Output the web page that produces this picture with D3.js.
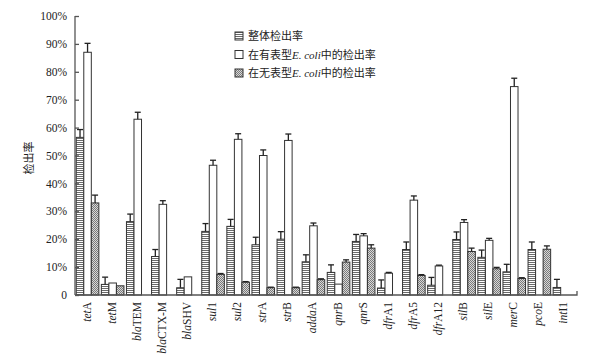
<!DOCTYPE html>
<html>
<head>
<meta charset="utf-8">
<script src="https://cdn.jsdelivr.net/npm/d3@7"></script>
<style>
body { margin: 0; background: #fff; }
</style>
</head>
<body>
<div id="chart"></div>
<script>
// gene names: [italic part, normal part]
var genes = [["tet","A"],["tet","M"],["bla","TEM"],["bla","CTX-M"],["bla","SHV"],["sul","1"],["sul","2"],["str","A"],["str","B"],["adda","A"],["qnr","B"],["qnr","S"],["dfr","A1"],["dfr","A5"],["dfr","A12"],["sil","B"],["sil","E"],["mer","C"],["pco","E"],["int","I1"]];
// overall detection rate (%) and error
var overall    = [56.5, 3.8, 26.3, 13.8, 2.6, 22.8, 24.6, 18.0, 20.0, 11.9, 8.1, 19.2, 2.5, 16.3, 3.5, 19.9, 13.5, 8.3, 16.3, 2.7];
var overallErr = [2.8, 2.6, 2.7, 2.5, 3.0, 2.8, 2.5, 2.7, 2.7, 2.5, 2.7, 2.5, 2.9, 2.7, 2.8, 2.7, 2.6, 2.7, 2.7, 2.9];
// detection rate in phenotypic E. coli
var withPheno    = [87, 4.3, 63, 32.5, 6.5, 46.5, 55.8, 50, 55.4, 24.8, 3.9, 21.2, 7.8, 34, 10.4, 26, 19.6, 74.7, 0, 0];
var withPhenoErr = [3.2, 0, 2.5, 1.3, 0, 1.8, 2.0, 2.0, 2.3, 1.0, 0, 0.8, 0.3, 1.5, 0.3, 1.0, 0.7, 3.0, 0, 0];
// detection rate in non-phenotypic E. coli
var noPheno    = [33, 3.3, 0, 0, 0, 7.4, 4.6, 2.6, 2.6, 5.5, 11.8, 16.8, 0, 7.0, 0, 15.6, 9.4, 5.9, 16.4, 0];
var noPhenoErr = [2.8, 0, 0, 0, 0, 0.3, 0.2, 0.2, 0.2, 0.3, 0.8, 1.2, 0, 0.3, 0, 1.2, 0.5, 0.3, 1.2, 0];
var yTicks = [0, 10, 20, 30, 40, 50, 60, 70, 80, 90, 100];

var width = 602, height = 358;
var svg = d3.select("#chart").append("svg")
    .attr("width", width)
    .attr("height", height);

var defs = svg.append("defs");
var hp = defs.append("pattern").attr("id", "hstripe")
    .attr("patternUnits", "userSpaceOnUse").attr("width", 4).attr("height", 2);
hp.append("rect").attr("width", 4).attr("height", 2).attr("fill", "#fff");
hp.append("rect").attr("width", 4).attr("height", 1).attr("fill", "#6a6a6a");
var cp = defs.append("pattern").attr("id", "check")
    .attr("patternUnits", "userSpaceOnUse").attr("width", 2).attr("height", 2);
cp.append("rect").attr("width", 2).attr("height", 2).attr("fill", "#d8d8d8");
cp.append("rect").attr("width", 1).attr("height", 1).attr("fill", "#7a7a7a");
cp.append("rect").attr("x", 1).attr("y", 1).attr("width", 1).attr("height", 1).attr("fill", "#7a7a7a");

var x0 = 75, x1 = 577, yTop = 16, yBot = 295;
var xScale = d3.scaleBand()
    .domain(d3.range(genes.length))
    .range([x0, x1])
    .paddingInner(0.1)
    .paddingOuter(0.05);
var yScale = d3.scaleLinear().domain([0, 100]).range([yBot, yTop]);

var series = [
    { vals: overall, errs: overallErr, fill: "url(#hstripe)" },
    { vals: withPheno, errs: withPhenoErr, fill: "#fff" },
    { vals: noPheno, errs: noPhenoErr, fill: "url(#check)" }
];
var bw = xScale.bandwidth() / 3;

var g = svg.append("g");
series.forEach(function (s, k) {
    var data = s.vals.map(function (v, i) { return { i: i, v: v, e: s.errs[i] }; })
        .filter(function (d) { return d.v > 0; });
    g.selectAll(".bar" + k).data(data).enter().append("rect")
        .attr("x", function (d) { return xScale(d.i) + k * bw; })
        .attr("y", function (d) { return yScale(d.v); })
        .attr("width", bw)
        .attr("height", function (d) { return yBot - yScale(d.v); })
        .attr("fill", s.fill)
        .attr("stroke", "#333")
        .attr("stroke-width", 1);
    var eb = data.filter(function (d) { return d.e > 0; });
    eb.forEach(function (d) {
        var cx = xScale(d.i) + k * bw + bw / 2;
        g.append("line")
            .attr("x1", cx).attr("x2", cx)
            .attr("y1", yScale(d.v)).attr("y2", yScale(d.v + d.e))
            .attr("stroke", "#222").attr("stroke-width", 1.3);
        g.append("line")
            .attr("x1", cx - 3).attr("x2", cx + 3)
            .attr("y1", yScale(d.v + d.e)).attr("y2", yScale(d.v + d.e))
            .attr("stroke", "#222").attr("stroke-width", 1.3);
    });
});

// axes
var yAxis = d3.axisLeft(yScale).tickValues(yTicks).tickSize(-4).tickPadding(8)
    .tickFormat(function (d) { return d === 0 ? "0" : d + "%"; });
var ya = svg.append("g").attr("transform", "translate(" + x0 + ",0)").call(yAxis);
ya.select(".domain").attr("d", "M0," + yTop + "V" + yBot).attr("stroke", "#555").attr("stroke-width", 1.3);
ya.selectAll(".tick line").attr("stroke", "#555").attr("stroke-width", 1.3);
ya.selectAll("text").attr("font-family", "Liberation Serif").attr("font-size", 11.5).attr("fill", "#222");

svg.append("path")
    .attr("d", "M" + x0 + "," + yBot + "H" + x1 + "V" + (yBot - 4))
    .attr("fill", "none").attr("stroke", "#555").attr("stroke-width", 1.3);

// x labels
genes.forEach(function (gn, i) {
    var cx = xScale(i) + xScale.bandwidth() / 2 + 3;
    var t = svg.append("text")
        .attr("transform", "translate(" + cx + "," + (yBot + 7) + ") rotate(-90)")
        .attr("text-anchor", "end")
        .attr("font-family", "Liberation Serif")
        .attr("font-size", 11.5)
        .attr("fill", "#222");
    t.append("tspan").attr("font-style", "italic").text(gn[0]);
    t.append("tspan").text(gn[1]);
});

// y title
svg.append("text")
    .attr("transform", "translate(33,158) rotate(-90)")
    .attr("text-anchor", "middle")
    .attr("font-family", "Noto Sans CJK SC")
    .attr("font-size", 11)
    .attr("fill", "#222")
    .text("检出率");

// legend
var legend = [
    { fill: "url(#hstripe)", parts: [["整体检出率", false]] },
    { fill: "#fff", parts: [["在有表型", false], ["E. coli", true], ["中的检出率", false]] },
    { fill: "url(#check)", parts: [["在无表型", false], ["E. coli", true], ["中的检出率", false]] }
];
legend.forEach(function (l, i) {
    var ly = 36 + i * 18.5;
    svg.append("rect")
        .attr("x", 235).attr("y", ly - 4).attr("width", 8).attr("height", 8)
        .attr("fill", l.fill).attr("stroke", "#333").attr("stroke-width", 1);
    var t = svg.append("text")
        .attr("x", 248).attr("y", ly + 4)
        .attr("font-family", "Noto Sans CJK SC")
        .attr("font-size", 11)
        .attr("fill", "#222");
    l.parts.forEach(function (p) {
        var ts = t.append("tspan").text(p[0]);
        if (p[1]) ts.attr("font-style", "italic").attr("font-family", "Liberation Serif");
    });
});
</script>
</body>
</html>
